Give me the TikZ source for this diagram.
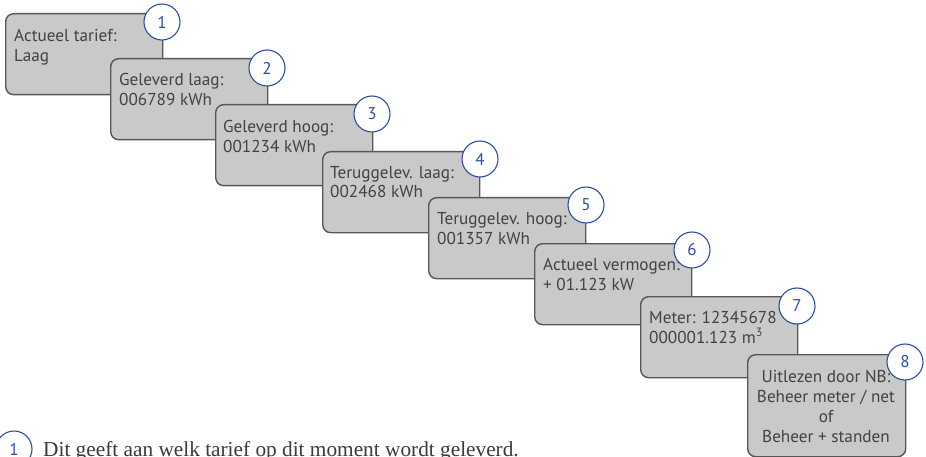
\documentclass[tikz,border=0pt]{standalone}
\usepackage{fontspec}
\setmainfont{Liberation Serif}
\newfontfamily\boxfont{PT Sans}
\definecolor{panelfill}{HTML}{C8C9C8}
\definecolor{panelline}{HTML}{575757}
\definecolor{paneltext}{HTML}{424242}
\definecolor{badgeblue}{HTML}{2B4FA3}
\definecolor{captext}{HTML}{3A3A3A}
\tikzset{
  panel/.style={draw=panelline, fill=panelfill, line width=1.4pt, rounded corners=8pt,
    minimum width=157pt, minimum height=81pt, anchor=north west, inner sep=0pt},
  badge/.style={circle, draw=badgeblue, fill=white, line width=1.1pt, minimum size=36pt,
    inner sep=0pt, text=badgeblue, font=\boxfont\fontsize{17}{17}\selectfont},
  ptext/.style={anchor=base west, align=left, text=paneltext, inner sep=0pt,
    font=\boxfont\fontsize{17.2}{20}\selectfont},
}
\begin{document}
\begin{tikzpicture}[x=1pt,y=-1pt]
\useasboundingbox (0,0) rectangle (926,457);
% box 1 (anchor = baseline of the last line)
\node[panel] (b1) at (5,13) {};
\node[ptext] (t1) at (14,62) {Actueel tarief:\\Laag};
\node[badge] (c1) at (162,22) {1};
% box 2
\node[panel] (b2) at (110,58) {};
\node[ptext] (t2) at (119,106) {Geleverd laag:\\006789 kWh};
\node[badge] (c2) at (267,68) {2};
% box 3
\node[panel] (b3) at (215,104) {};
\node[ptext] (t3) at (223,153) {Geleverd hoog:\\001234 kWh};
\node[badge] (c3) at (372,114) {3};
% box 4
\node[panel] (b4) at (322,151) {};
\node[ptext] (t4) at (330,198) {Teruggelev. laag:\\002468 kWh};
\node[badge] (c4) at (480,159) {4};
% box 5
\node[panel] (b5) at (428,197) {};
\node[ptext] (t5) at (437,244) {Teruggelev. hoog:\\001357 kWh};
\node[badge] (c5) at (586,205) {5};
% box 6
\node[panel] (b6) at (534,243) {};
\node[ptext] (t6) at (543,290) {Actueel vermogen:\\+ 01.123 kW};
\node[badge] (c6) at (692,250) {6};
% box 7
\node[panel] (b7) at (640,296) {};
\node[ptext] (t7) at (649,343) {Meter: 12345678\\000001.123 m\textsuperscript{3}};
\node[badge] (c7) at (797,306) {7};
% box 8
\node[panel, minimum width=158pt, minimum height=102pt] (b8) at (747,354) {};
\node[ptext, align=center, anchor=base] (t8) at (826,442)
  {Uitlezen door NB:\\Beheer meter / net\\of\\Beheer + standen};
\node[badge] (c8) at (905,362) {8};
% caption
\node[badge] (c9) at (14,449) {1};
\node[anchor=base west, inner sep=0pt, text=captext, font=\fontsize{21.3}{21.3}\selectfont] (cap) at (43,456)
  {Dit geeft aan welk tarief op dit moment wordt geleverd.};
\end{tikzpicture}
\end{document}
